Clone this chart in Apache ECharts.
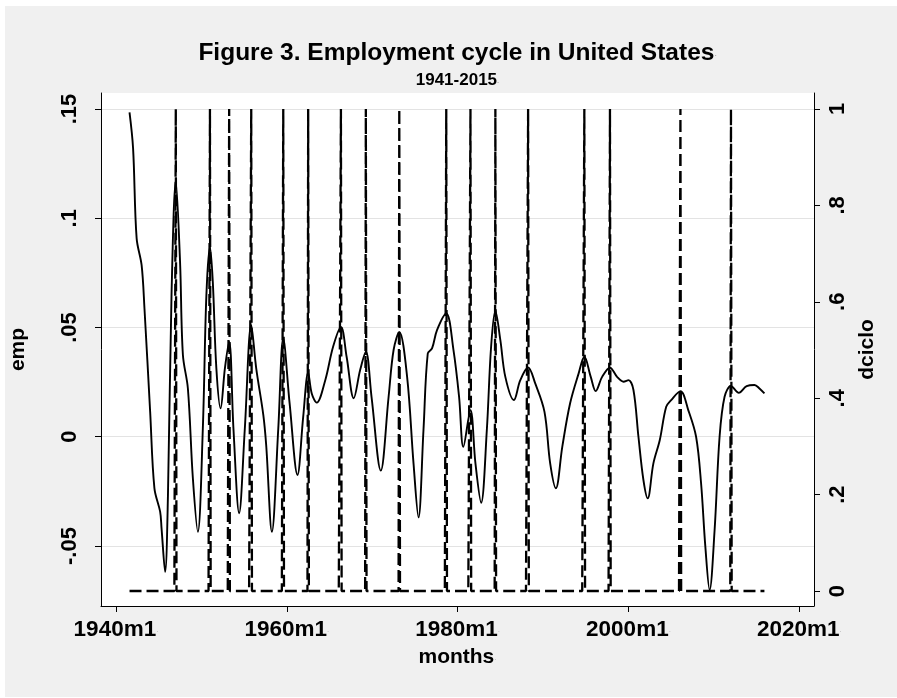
<!DOCTYPE html>
<html><head><meta charset="utf-8">
<script src="https://cdn.jsdelivr.net/npm/echarts@6/dist/echarts.min.js"></script>
<style>html,body{margin:0;padding:0;background:#fff;}#c{width:897px;height:698px;}</style>
</head><body><div id="c"></div>
<script>
// ---- data (Stata monthly dates) ----
const empMonths = ['1941m8','1942m1','1942m6','1943m1','1943m5','1944m1','1944m7','1945m3','1945m5','1945m10',
 '1946m2','1946m7','1947m1','1947m7','1947m11','1948m6','1949m1','1949m8','1950m3','1950m8',
 '1951m1','1951m5','1951m10','1952m4','1952m10','1953m4','1953m10','1954m6','1955m2','1955m11',
 '1956m6','1957m4','1957m8','1958m4','1959m1','1959m8','1960m5','1961m4','1961m12','1962m7',
 '1962m12','1963m7','1964m7','1965m6','1966m5','1967m1','1967m11','1968m8','1969m4','1969m12',
 '1971m1','1971m12','1972m7','1973m3','1974m2','1974m11','1975m6','1976m1','1976m7','1977m1',
 '1977m8','1978m9','1979m7','1980m3','1980m9','1981m7','1982m2','1982m10','1983m6','1983m12',
 '1984m6','1985m1','1985m8','1986m8','1987m5','1988m4','1989m2','1990m3','1990m11','1991m7',
 '1992m4','1993m3','1994m3','1994m11','1995m8','1996m3','1996m12','1997m11','1998m9','1999m6',
 '2000m1','2000m8','2001m3','2001m10','2002m4','2002m12','2003m9','2004m6','2005m1','2006m2',
 '2007m1','2007m12','2008m7','2009m1','2009m7','2010m2','2010m9','2011m4','2012m1','2012m12',
 '2013m11','2014m10','2015m5','2015m12'];
const empValues = [0.1484,0.132,0.0908,0.0785,0.0587,0.0114,-0.0236,-0.0343,-0.0419,-0.0618,
 -0.0267,0.0648,0.117,0.080,0.0374,0.0221,-0.019,-0.0435,0.0038,0.0648,
 0.0869,0.0709,0.0313,0.013,0.0313,0.0435,0.0038,-0.035,0.0038,0.0511,
 0.0313,0.0099,-0.0038,-0.0435,0.0038,0.045,0.015,-0.0175,0.0091,0.0293,
 0.0198,0.0156,0.0259,0.0412,0.0503,0.0366,0.0176,0.0305,0.0389,0.0183,
 -0.0155,0.0183,0.0397,0.048,0.0274,-0.0122,-0.0369,0.0031,0.0381,0.0404,
 0.0488,0.0564,0.040,0.0183,-0.0046,0.0122,-0.0122,-0.0302,0.0031,0.0412,
 0.0576,0.0442,0.0274,0.0168,0.0259,0.0317,0.0244,0.0114,-0.0122,-0.0236,
 -0.0046,0.0153,0.029,0.0366,0.0274,0.0209,0.0274,0.0316,0.0274,0.0252,
 0.0259,0.0214,0.0,-0.0198,-0.0282,-0.0122,-0.0015,0.0137,0.0168,0.0209,
 0.0122,0.0,-0.0213,-0.0503,-0.0701,-0.0427,0.0,0.0183,0.0232,0.0201,
 0.0232,0.0237,0.0221,0.0198];
const cycleMonths = ['1947m1','1951m1','1953m4','1955m11','1959m8','1962m7','1966m5','1969m4','1973m3',
 '1978m9','1981m7','1984m6','1988m4','1994m11','1997m11','2006m2','2012m1'];
const cycleStart = '1941m8';
const cycleEnd = '2015m12';
const xTickLabels = ['1940m1','1960m1','1980m1','2000m1','2020m1'];
const yLeftTickLabels = ['-.05','0','.05','.1','.15'];
const yRightTickLabels = ['0','.2','.4','.6','.8','1'];

// ---- helpers ----
function tm(s){ const p = s.split('m'); return (Number(p[0]) - 1960) * 12 + (Number(p[1]) - 1); }
function fmtTm(v){ const y = 1960 + Math.floor(v / 12); const m = v - (y - 1960) * 12 + 1; return y + 'm' + m; }
function nearestLabel(v, labels){
  let best = labels[0], bd = Infinity;
  labels.forEach(l => { const d = Math.abs(parseFloat(l) - v); if (d < bd) { bd = d; best = l; } });
  return best;
}
const FONT = "'Liberation Sans', Arial, Helvetica, sans-serif";
const dotStyle = { fontSize: 8, color: '#b0b0b0', fontFamily: FONT };

const empData = empMonths.map((s, i) => [tm(s), empValues[i]]);
const spikeSet = new Set(cycleMonths.map(tm));
const cycleData = [];
for (let m = tm(cycleStart); m <= tm(cycleEnd); m++) cycleData.push([m, spikeSet.has(m) ? 1 : 0]);

const chart = echarts.init(document.getElementById('c'), null, { renderer: 'canvas' });
const option = {
  animation: false,
  backgroundColor: '#ffffff',
  graphic: [{ type: 'rect', z: -100, silent: true,
    shape: { x: 5, y: 6, width: 892, height: 691 }, style: { fill: '#f0f0f0' } }],
  title: [
    { text: '{t|Figure 3. Employment cycle in United States}{d|.}', left: 457.5, top: 41, padding: 0, textAlign: 'center',
      textStyle: { rich: { t: { fontSize: 24.5, fontFamily: FONT, color: '#000', fontWeight: 'bold' }, d: dotStyle } } },
    { text: '{t|1941-2015}{d|.}', left: 457.5, top: 72, padding: 0, textAlign: 'center',
      textStyle: { rich: { t: { fontSize: 17, fontFamily: FONT, color: '#000', fontWeight: 'bold' }, d: dotStyle } } }
  ],
  grid: { left: 101, right: 83, top: 93, bottom: 92, show: true, backgroundColor: '#ffffff', borderWidth: 0, containLabel: false },
  xAxis: {
    type: 'value', min: -261.07, max: 740.65,
    name: '{t|months}{d|.}', nameLocation: 'middle', nameGap: 41,
    nameTextStyle: { rich: { t: { fontSize: 21, fontFamily: FONT, color: '#000', fontWeight: 'bold' }, d: dotStyle } },
    axisLine: { show: true, onZero: false, lineStyle: { color: '#000', width: 1 } },
    axisTick: { show: true, length: 6, lineStyle: { color: '#000', width: 1 }, customValues: xTickLabels.map(tm) },
    axisLabel: { customValues: xTickLabels.map(tm), margin: 12,
      formatter: v => '{t|' + fmtTm(Math.round(v)) + '}{d|.}',
      rich: { t: { fontSize: 22.5, fontFamily: FONT, color: '#000', fontWeight: 'bold' }, d: dotStyle } },
    splitLine: { show: false }
  },
  yAxis: [
    { type: 'value', position: 'left', min: -0.07746, max: 0.15732,
      name: 'emp', nameLocation: 'middle', nameRotate: 90, nameGap: 72,
      nameTextStyle: { fontSize: 21, fontFamily: FONT, color: '#000', fontWeight: 'bold' },
      axisLine: { show: true, onZero: false, lineStyle: { color: '#000', width: 1 } },
      axisTick: { show: true, length: 6, lineStyle: { color: '#000', width: 1 }, customValues: yLeftTickLabels.map(parseFloat) },
      axisLabel: { customValues: yLeftTickLabels.map(parseFloat), rotate: 90, margin: 20, fontSize: 22, fontFamily: FONT, color: '#000', fontWeight: 'bold',
        formatter: v => nearestLabel(v, yLeftTickLabels) },
      splitLine: { show: true, lineStyle: { color: '#e3e3e3', width: 1.2 } }
    },
    { type: 'value', position: 'right', min: -0.0311, max: 1.0332,
      name: 'dciclo', nameLocation: 'middle', nameRotate: 90, nameGap: 40,
      nameTextStyle: { fontSize: 21, fontFamily: FONT, color: '#000', fontWeight: 'bold' },
      axisLine: { show: true, onZero: false, lineStyle: { color: '#000', width: 1 } },
      axisTick: { show: true, length: 6, lineStyle: { color: '#000', width: 1 }, customValues: yRightTickLabels.map(parseFloat) },
      axisLabel: { customValues: yRightTickLabels.map(parseFloat), rotate: 90, margin: 13, fontSize: 22, fontFamily: FONT, color: '#000', fontWeight: 'bold',
        formatter: v => nearestLabel(v, yRightTickLabels) },
      splitLine: { show: false }
    }
  ],
  series: [
    { name: 'emp', type: 'line', yAxisIndex: 0, data: empData, smooth: 0.35, showSymbol: false, symbol: 'none',
      lineStyle: { color: '#000', width: 1.9 }, z: 2 },
    { name: 'dciclo', type: 'line', yAxisIndex: 1, data: cycleData, showSymbol: false, symbol: 'none',
      lineStyle: { color: '#000', width: 2.3, type: [12, 5] }, z: 3 }
  ]
};
chart.setOption(option);
</script></body></html>
